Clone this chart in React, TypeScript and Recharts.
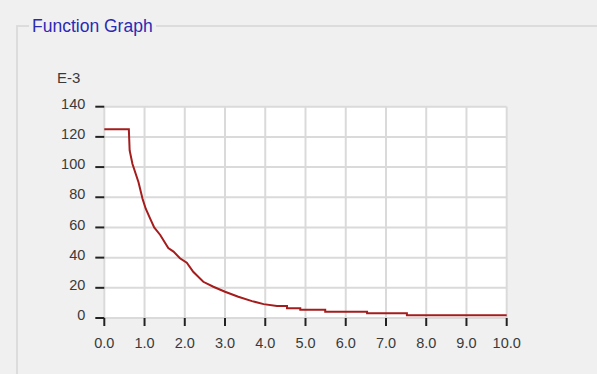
import { LineChart, Line, XAxis, YAxis, CartesianGrid } from "recharts";

// function values, y in units of 1E-3
const xValues = [
  0, 0.61, 0.63, 0.7, 0.85, 0.95, 1.03, 1.14, 1.24, 1.39, 1.59, 1.72, 1.88, 2.05, 2.21, 2.46, 2.71, 3.0,
  3.33, 3.67, 3.96, 4.29, 4.54, 4.54, 4.87, 4.87, 5.49, 5.49, 6.53, 6.53, 7.52, 7.52, 10,
];
const yValues = [
  125, 125, 111, 102, 90, 79, 72.4, 65.8, 60, 55, 46.3, 44, 39.6, 36.6, 30.6, 24, 20.7, 17.4,
  14.1, 11.2, 9.2, 7.9, 7.9, 6.4, 6.4, 5.5, 5.5, 4.2, 4.2, 3.1, 3.1, 1.8, 1.8,
];
const xTicks = [0, 1, 2, 3, 4, 5, 6, 7, 8, 9, 10];
const yTicks = [0, 20, 40, 60, 80, 100, 120, 140];

const data = xValues.map((x, i) => ({ x, y: yValues[i] }));

const tickFont = { fontFamily: "'Liberation Sans', Arial, sans-serif", fontSize: 14.5, fill: "#3a3a3a" };

export default function App() {
  return (
    <div
      style={{
        position: "absolute",
        left: 0,
        top: 0,
        width: 597,
        height: 374,
        background: "#f0f0f0",
        overflow: "hidden",
      }}
    >
      {/* group box frame */}
      <div
        style={{
          position: "absolute",
          left: 16,
          top: 25,
          width: 640,
          height: 400,
          borderTop: "2px solid #dcdcdc",
          borderLeft: "2px solid #dcdcdc",
        }}
      />
      <div
        style={{
          position: "absolute",
          left: 29,
          top: 15.5,
          padding: "0 3px",
          background: "#f0f0f0",
          color: "#2a2ab4",
          fontFamily: "'Liberation Sans', Arial, sans-serif",
          fontSize: 17.5,
          whiteSpace: "nowrap",
        }}
      >
        Function Graph
      </div>
      <div
        style={{
          position: "absolute",
          left: 57,
          top: 68.5,
          color: "#3a3a3a",
          fontFamily: "'Liberation Sans', Arial, sans-serif",
          fontSize: 15,
        }}
      >
        E-3
      </div>
      <div style={{ position: "absolute", left: 0, top: 0 }}>
        <LineChart
          width={597}
          height={374}
          data={data}
          margin={{ top: 106.7, right: 90.3, bottom: 16, left: 0 }}
        >
          <CartesianGrid stroke="#dadada" strokeWidth={2} fill="#ffffff" />
          <XAxis
            dataKey="x"
            type="number"
            domain={[0, 10]}
            ticks={xTicks}
            tickFormatter={(v: number) => v.toFixed(1)}
            interval={0}
            height={40}
            axisLine={false}
            tickSize={8}
            tickMargin={12}
            tickLine={{ stroke: "#222", strokeWidth: 2 }}
            tick={tickFont}
          />
          <YAxis
            type="number"
            domain={[0, 140]}
            ticks={yTicks}
            interval={0}
            width={104.3}
            axisLine={false}
            tickSize={9}
            tickMargin={10}
            tickLine={{ stroke: "#222", strokeWidth: 2 }}
            tick={{ ...tickFont, dy: -3 }}
          />
          <Line
            type="linear"
            dataKey="y"
            stroke="#a51c1c"
            strokeWidth={2}
            dot={false}
            isAnimationActive={false}
          />
        </LineChart>
      </div>
    </div>
  );
}
